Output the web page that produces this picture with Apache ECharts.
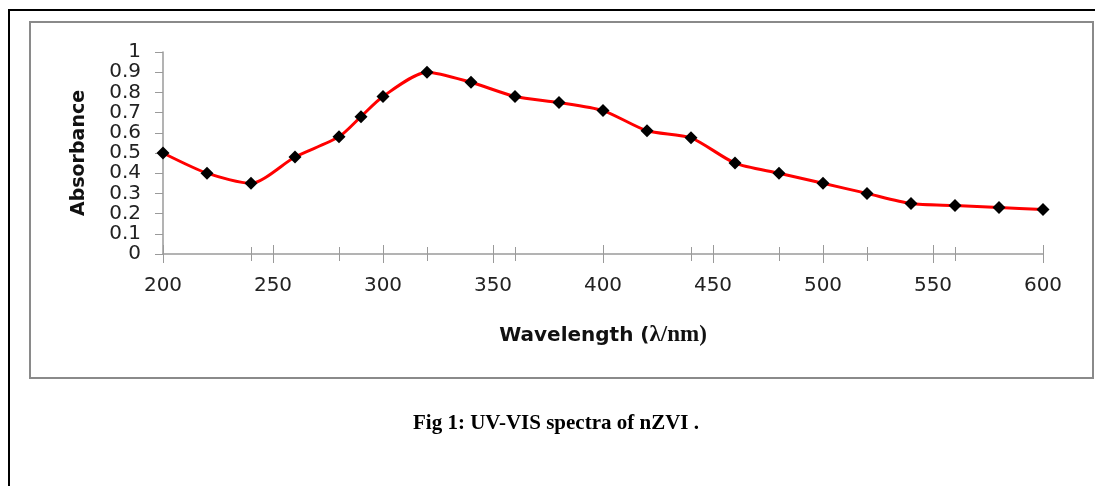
<!DOCTYPE html>
<html>
<head>
    <meta charset="utf-8">
    <title>UV-VIS spectra of nZVI</title>
    <style>
        html, body { margin: 0; padding: 0; background: #fff; }
        #main { width: 1095px; height: 486px; }
    </style>
</head>
<body>
<div id="main"></div>
<script src="https://cdn.jsdelivr.net/npm/echarts@6/dist/echarts.min.js"></script>
<script>
    // wavelength (nm) and absorbance
    var wavelength = [200, 220, 240, 260, 280, 290, 300, 320, 340, 360, 380, 400,
                      420, 440, 460, 480, 500, 520, 540, 560, 580, 600];
    var absorbance = [0.50, 0.40, 0.35, 0.48, 0.58, 0.68, 0.78, 0.90, 0.85, 0.78, 0.75, 0.71,
                      0.61, 0.575, 0.45, 0.40, 0.35, 0.30, 0.25, 0.24, 0.23, 0.22];

    var points = wavelength.map(function (w, i) { return [w, absorbance[i]]; });

    var axisGray = '#9a9a9a';
    var sans = 'DejaVu Sans';

    // extra x axes only used to draw the tick marks (both sides of the line)
    function tickAxis(interval, len, inside) {
        return {
            type: 'value', position: 'bottom', min: 200, max: 600, interval: interval,
            axisLine: { show: false },
            axisLabel: { show: false },
            splitLine: { show: false },
            axisTick: { show: true, inside: inside, length: len, lineStyle: { color: axisGray, width: 1 } }
        };
    }

    var myChart = echarts.init(document.getElementById('main'));

    var option = {
        backgroundColor: '#ffffff',
        animation: false,
        grid: { left: 163, right: 52, top: 52, bottom: 232 },
        graphic: [
            {   // outer document frame
                type: 'rect', z: -10,
                shape: { x: 9, y: 10, width: 1200, height: 600 },
                style: { fill: 'none', stroke: '#000', lineWidth: 2 }
            },
            {   // chart area border
                type: 'rect', z: -9,
                shape: { x: 30, y: 22, width: 1063, height: 356 },
                style: { fill: '#fff', stroke: '#8a8a8a', lineWidth: 2 }
            },
            {
                type: 'text', left: 413, top: 413,
                style: {
                    text: 'Fig 1: UV-VIS spectra of nZVI .',
                    font: 'bold 21px "Liberation Serif"', fill: '#000'
                }
            }
        ],
        xAxis: [
            {
                type: 'value', min: 200, max: 600, interval: 50,
                name: '{a|Wavelength (}{b|λ/nm)}',
                nameLocation: 'middle', nameGap: 70,
                nameTextStyle: {
                    rich: {
                        a: { fontFamily: sans, fontWeight: 'bold', fontSize: 20, color: '#111' },
                        b: { fontFamily: 'Liberation Serif', fontWeight: 'bold', fontSize: 23, color: '#111' }
                    }
                },
                axisLine: { lineStyle: { color: axisGray, width: 1.5 } },
                axisTick: { length: 9, lineStyle: { color: axisGray } },
                axisLabel: { fontFamily: sans, fontSize: 20, color: '#222', margin: 22 },
                splitLine: { show: false }
            },
            tickAxis(50, 9, true),
            tickAxis(40, 7, false),
            tickAxis(40, 7, true)
        ],
        yAxis: {
            type: 'value', min: 0, max: 1, interval: 0.1,
            name: 'Absorbance', nameLocation: 'middle', nameRotate: 90, nameGap: 74,
            nameTextStyle: { fontFamily: sans, fontWeight: 'bold', fontSize: 19, color: '#111' },
            axisLine: { show: true, lineStyle: { color: axisGray, width: 1.5 } },
            axisTick: { show: true, length: 8, lineStyle: { color: axisGray } },
            axisLabel: { fontFamily: sans, fontSize: 20, color: '#222', margin: 22, lineHeight: 20 },
            splitLine: { show: false }
        },
        series: [{
            name: 'nZVI',
            type: 'line',
            data: points,
            smooth: 0.25,
            symbol: 'diamond',
            symbolSize: [13, 13],
            itemStyle: { color: '#000' },
            lineStyle: { color: '#ff0000', width: 3 },
            z: 3
        }]
    };
    myChart.setOption(option);
</script>
</body>
</html>
